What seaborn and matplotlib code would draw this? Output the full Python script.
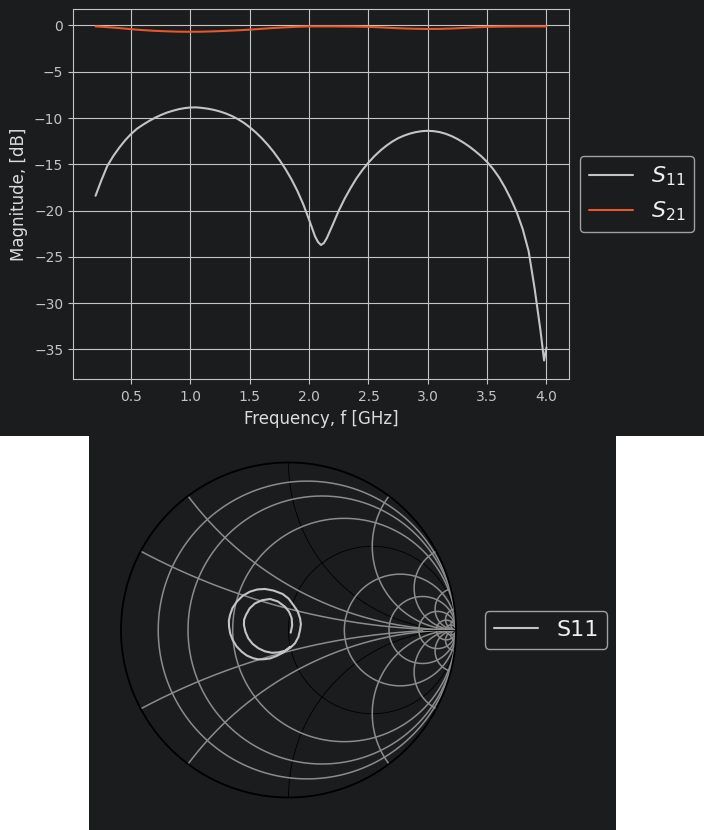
import numpy as np
import pandas as pd
import seaborn as sns
import matplotlib
matplotlib.use('Agg')
import matplotlib.pyplot as plt
from matplotlib.patches import Circle, Rectangle
from matplotlib.ticker import FuncFormatter

# S-parameter magnitudes
freq_s11 = [0.2, 0.25, 0.3, 0.35, 0.4, 0.45, 0.5, 0.55, 0.6, 0.65, 0.7, 0.75, 0.8, 0.85, 0.9, 0.95, 1.0,
            1.05, 1.1, 1.15, 1.2, 1.25, 1.3, 1.35, 1.4, 1.45, 1.5, 1.55, 1.6, 1.65, 1.7, 1.75, 1.8, 1.85,
            1.9, 1.95, 2.0, 2.05, 2.075, 2.1, 2.125, 2.15, 2.2, 2.25, 2.3, 2.35, 2.4, 2.45, 2.5, 2.55, 2.6,
            2.65, 2.7, 2.75, 2.8, 2.85, 2.9, 2.95, 3.0, 3.05, 3.1, 3.15, 3.2, 3.25, 3.3, 3.35, 3.4, 3.45,
            3.5, 3.55, 3.6, 3.65, 3.7, 3.75, 3.8, 3.85, 3.9, 3.95, 3.98, 4.0]
s11_db = [-18.4, -16.7, -15.15, -14.1, -13.2, -12.4, -11.72, -11.15, -10.72, -10.33, -9.98, -9.68, -9.42,
          -9.22, -9.05, -8.93, -8.86, -8.85, -8.91, -9.0, -9.13, -9.3, -9.52, -9.79, -10.12, -10.52, -11.0,
          -11.55, -12.17, -12.87, -13.65, -14.53, -15.5, -16.6, -17.85, -19.3, -21.0, -22.8, -23.4, -23.72,
          -23.5, -22.95, -21.5, -20.0, -18.7, -17.55, -16.5, -15.6, -14.82, -14.12, -13.52, -13.0, -12.55,
          -12.18, -11.9, -11.68, -11.52, -11.42, -11.38, -11.42, -11.52, -11.7, -11.95, -12.27, -12.65,
          -13.08, -13.58, -14.12, -14.75, -15.5, -16.4, -17.5, -18.75, -20.2, -22.0, -24.4, -28.4, -33.0,
          -36.2, -34.8]
freq_s21 = [0.2, 0.3, 0.4, 0.5, 0.6, 0.7, 0.8, 0.9, 1.0, 1.1, 1.2, 1.3, 1.4, 1.5, 1.6, 1.7, 1.8, 1.9, 2.0,
            2.2, 2.4, 2.5, 2.6, 2.7, 2.8, 2.9, 3.0, 3.1, 3.2, 3.3, 3.4, 3.5, 3.6, 3.8, 4.0]
s21_db = [-0.1, -0.18, -0.28, -0.4, -0.5, -0.58, -0.63, -0.67, -0.68, -0.67, -0.63, -0.58, -0.52, -0.45,
          -0.36, -0.27, -0.2, -0.14, -0.1, -0.1, -0.12, -0.15, -0.2, -0.27, -0.32, -0.36, -0.38, -0.37,
          -0.33, -0.27, -0.2, -0.15, -0.12, -0.1, -0.1]

# S11 on the Smith chart, from 0.2 GHz to 4 GHz
s11_re = [0.009, -0.028, -0.071, -0.110, -0.150, -0.181, -0.210, -0.248, -0.279, -0.310, -0.333, -0.348,
          -0.355, -0.356, -0.349, -0.334, -0.309, -0.274, -0.230, -0.186, -0.140, -0.088, -0.035, 0.000,
          0.029, 0.054, 0.069, 0.074, 0.069, 0.059, 0.039, 0.011, -0.021, -0.060, -0.100, -0.142, -0.180,
          -0.214, -0.240, -0.257, -0.266, -0.265, -0.254, -0.232, -0.200, -0.157, -0.110, -0.063, -0.021,
          0.004, 0.019, 0.022, 0.013]
s11_im = [-0.100, -0.133, -0.155, -0.170, -0.175, -0.175, -0.169, -0.153, -0.130, -0.098, -0.060, -0.021,
          0.020, 0.056, 0.090, 0.132, 0.169, 0.204, 0.229, 0.242, 0.245, 0.235, 0.215, 0.188, 0.149, 0.113,
          0.070, 0.035, 0.000, -0.042, -0.079, -0.106, -0.124, -0.134, -0.136, -0.127, -0.109, -0.083,
          -0.050, -0.011, 0.030, 0.062, 0.090, 0.129, 0.159, 0.178, 0.185, 0.170, 0.139, 0.108, 0.070,
          0.027, -0.016]

# Smith grid values
grid_r = [1/8, 1/4, 1/2, 2, 4, 8, 16, 32]
grid_x = [1/4, 1/2, 2, 4, 8, 16, 32]

DARK = '#1a1c1e'
LIGHT = '#c4c4c4'
ORANGE = '#e8562a'
W, H = 704, 830

sns.set_theme(style='darkgrid', rc={
    'axes.facecolor': DARK, 'axes.edgecolor': LIGHT, 'axes.labelcolor': '#dcdcdc',
    'axes.linewidth': 0.8, 'grid.color': LIGHT, 'grid.linewidth': 0.8,
    'xtick.color': LIGHT, 'ytick.color': LIGHT, 'xtick.bottom': True, 'ytick.left': True,
    'xtick.major.size': 3.5, 'ytick.major.size': 3.5, 'xtick.major.width': 0.8, 'ytick.major.width': 0.8,
    'xtick.major.pad': 4.5, 'ytick.major.pad': 3.5,
    'xtick.labelsize': 10, 'ytick.labelsize': 10, 'axes.labelsize': 12,
    'font.family': ['DejaVu Sans'],
})


def axes_px(fig, left, top, right, bottom):
    return fig.add_axes([left / W, 1 - bottom / H, (right - left) / W, (bottom - top) / H])


def add_legend(fig, ax, x, y):
    handles, labels = ax.get_legend_handles_labels()
    leg = fig.legend(handles, labels, loc='center left', bbox_to_anchor=(x / W, 1 - y / H),
                     fontsize=16, facecolor=DARK, edgecolor='#a0a0a0', labelcolor='#f0f0f0',
                     framealpha=1, borderaxespad=0)
    leg.get_frame().set_linewidth(1.0)
    return leg


def circle_line(ax, cx, cy, rad, clip, **kw):
    t = np.linspace(0, 2 * np.pi, 721)
    line, = ax.plot(cx + rad * np.cos(t), cy + rad * np.sin(t), **kw)
    if clip is not None:
        line.set_clip_path(clip)


fig = plt.figure(figsize=(W / 100, H / 100), dpi=100, facecolor='white')
fig.add_artist(Rectangle((0, 1 - 436 / H), 1, 436 / H, transform=fig.transFigure, color=DARK, lw=0, zorder=-5))
fig.add_artist(Rectangle((89 / W, 0), (616 - 89) / W, (830 - 436) / H, transform=fig.transFigure, color=DARK, lw=0, zorder=-5))

# magnitude plot
ax = axes_px(fig, 73, 9, 569, 379)
df = pd.DataFrame({'freq': freq_s11 + freq_s21, 'mag': s11_db + s21_db,
                   'trace': ['$S_{11}$'] * len(freq_s11) + ['$S_{21}$'] * len(freq_s21)})
sns.lineplot(data=df, x='freq', y='mag', hue='trace', palette=[LIGHT, ORANGE], estimator=None,
             errorbar=None, linewidth=1.5, ax=ax, legend='full')
ax.get_legend().remove()
ax.set_xlim(0.01, 4.19)
ax.set_ylim(-38.2, 1.78)
ax.set_xticks([0.5, 1.0, 1.5, 2.0, 2.5, 3.0, 3.5, 4.0])
ax.set_xlabel('Frequency, f [GHz]')
ax.set_ylabel('Magnitude, [dB]')
for spine in ax.spines.values():
    spine.set_visible(True)
ax.yaxis.set_major_formatter(FuncFormatter(lambda v, p: f'{v:.0f}'.replace('-', '\u2212')))
add_legend(fig, ax, 580, 194)

# Smith chart
sm = axes_px(fig, 121, 462.5, 456, 797.5)
sm.set_xlim(-1, 1)
sm.set_ylim(-1, 1)
sm.set_aspect('equal')
sm.axis('off')
clip = Circle((0, 0), 1, transform=sm.transData)
for r in grid_r:
    circle_line(sm, r / (1 + r), 0, 1 / (1 + r), clip, color='#8c8c8c', lw=1.1, zorder=2)
for x in grid_x:
    for sign in (1, -1):
        circle_line(sm, 1, sign / x, 1 / x, clip, color='#8c8c8c', lw=1.1, zorder=2)
circle_line(sm, 0.5, 0, 0.5, clip, color='black', lw=0.6, zorder=1)
for sign in (1, -1):
    circle_line(sm, 1, sign, 1, clip, color='black', lw=0.6, zorder=1)
sm.plot([0.8, 1], [0, 0], color='black', lw=0.6, zorder=3)
circle_line(sm, 0, 0, 1, None, color='black', lw=1.3, zorder=4, clip_on=False)

sns.lineplot(x=s11_re, y=s11_im, sort=False, estimator=None, color=LIGHT, linewidth=1.5,
             label='S11', ax=sm, zorder=5)
sm.get_legend().remove()
sm.set_xlim(-1, 1)
sm.set_ylim(-1, 1)
sm.axis('off')
add_legend(fig, sm, 485, 630)

fig.savefig('out.png', dpi=100, facecolor=fig.get_facecolor())
